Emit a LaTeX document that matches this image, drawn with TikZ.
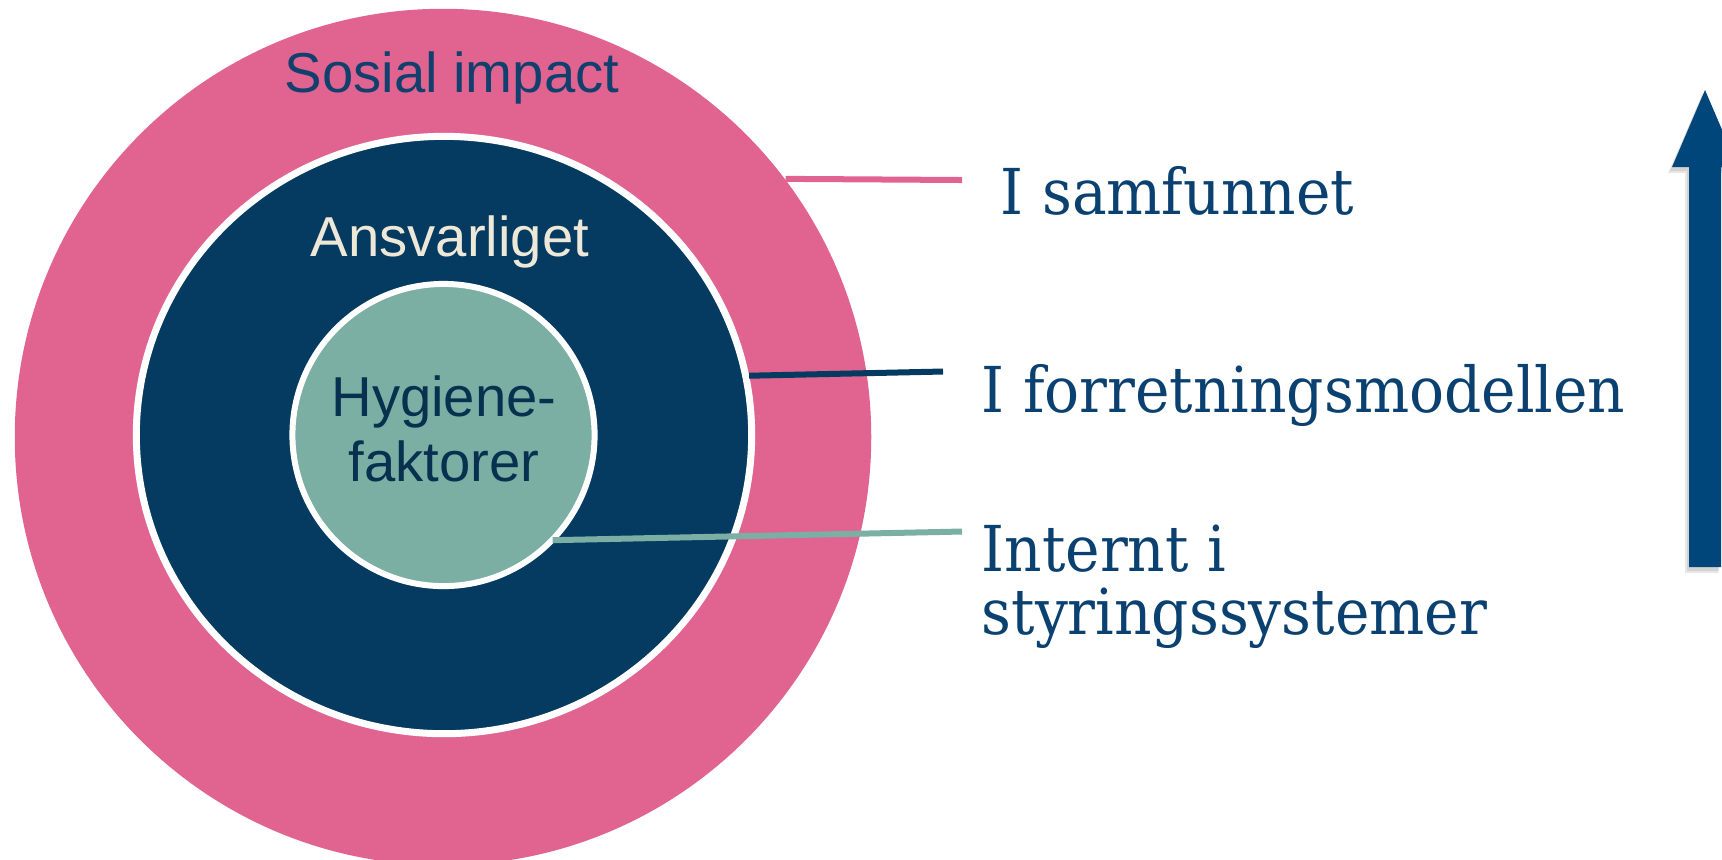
\documentclass[tikz,border=0pt]{standalone}
\usepackage{fontspec}
\setmainfont{DejaVu Serif}[FakeStretch=0.92]
\newfontfamily\sansfnt{Liberation Sans}
\usetikzlibrary{positioning,calc,shapes.geometric}
\definecolor{colorSOC}{HTML}{E0648F}
\definecolor{colorANS}{HTML}{053A61}
\definecolor{colorHYG}{HTML}{7BAFA3}
\definecolor{colorSOCTXT}{HTML}{11406E}
\definecolor{colorANSTXT}{HTML}{EDE8D8}
\definecolor{colorHYGTXT}{HTML}{08304F}
\definecolor{colorLBL}{HTML}{0B4170}
\definecolor{colorARR}{HTML}{01467A}
\tikzset{
   ring/.style={circle,inner sep=0pt},
   oval/.style={ellipse,inner sep=0pt},
   ringtxt/.style={inner sep=0pt,font=\sansfnt\fontsize{16}{18.5}\selectfont,align=center},
   lbl/.style={inner sep=0pt,font=\fontsize{18}{17.9}\selectfont,color=colorLBL,align=left},
   lnsoc/.style={-,color=colorSOC,line width=0.06cm},
   lnans/.style={-,color=colorANS,line width=0.06cm},
   lnhyg/.style={-,color=colorHYG,line width=0.06cm,shorten <=-1pt},
   arrshadow/.style={black,opacity=0.09},
}
\begin{document}
\begin{tikzpicture}[x=0.01cm,y=-0.01cm]
      \useasboundingbox (0,0) rectangle (1722,859);
      \node[ring,fill=colorSOC,minimum size=8.56cm] (soc) at (443,437) {};
      \node[oval,fill=colorANS,draw=white,line width=0.07cm,minimum width=6.15cm,minimum height=5.97cm] (ans) at (444,435) {};
      \node[ring,fill=colorHYG,draw=white,line width=0.06cm,minimum size=3.02cm] (hyg) at (443.5,435) {};
      \node[ringtxt,anchor=base,color=colorSOCTXT] (soctxt) at (452,92) {Sosial impact};
      \node[ringtxt,anchor=base,color=colorANSTXT] (anstxt) at (450,256) {Ansvarliget};
      \node[ringtxt,anchor=north,color=colorHYGTXT] (hygtxt) at (444,375) {Hygiene-\\faktorer};
      \node[lbl,anchor=base west] (sam) at (1000,214) {I samfunnet};
      \node[lbl,anchor=base west] (forr) at (981,412) {I forretningsmodellen};
      \node[lbl,anchor=north west] (intr) at (981,524) {Internt i\\styringssystemer};
      \coordinate (samend) at (962,180);
      \coordinate (forrend) at (943,371.5);
      \coordinate (intrend) at (962,531.5);
      \draw[lnsoc] (soc.37) -- (samend);
      \draw[lnans] (ans.11) -- (forrend);
      \draw[lnhyg] (hyg.-43) -- (intrend);
      \fill[arrshadow] (1702,95) -- (1668,173) -- (1685,173) -- (1685,573) -- (1718,573) -- (1718,173) -- (1735,173) -- cycle;
      \fill[arrshadow] (1703,93) -- (1670,171) -- (1687,171) -- (1687,571) -- (1719,571) -- (1719,171) -- (1736,171) -- cycle;
      \fill[colorARR] (1705,90) -- (1672,167) -- (1689,167) -- (1689,567) -- (1721,567) -- (1721,167) -- (1738,167) -- cycle;
    \end{tikzpicture}
\end{document}
